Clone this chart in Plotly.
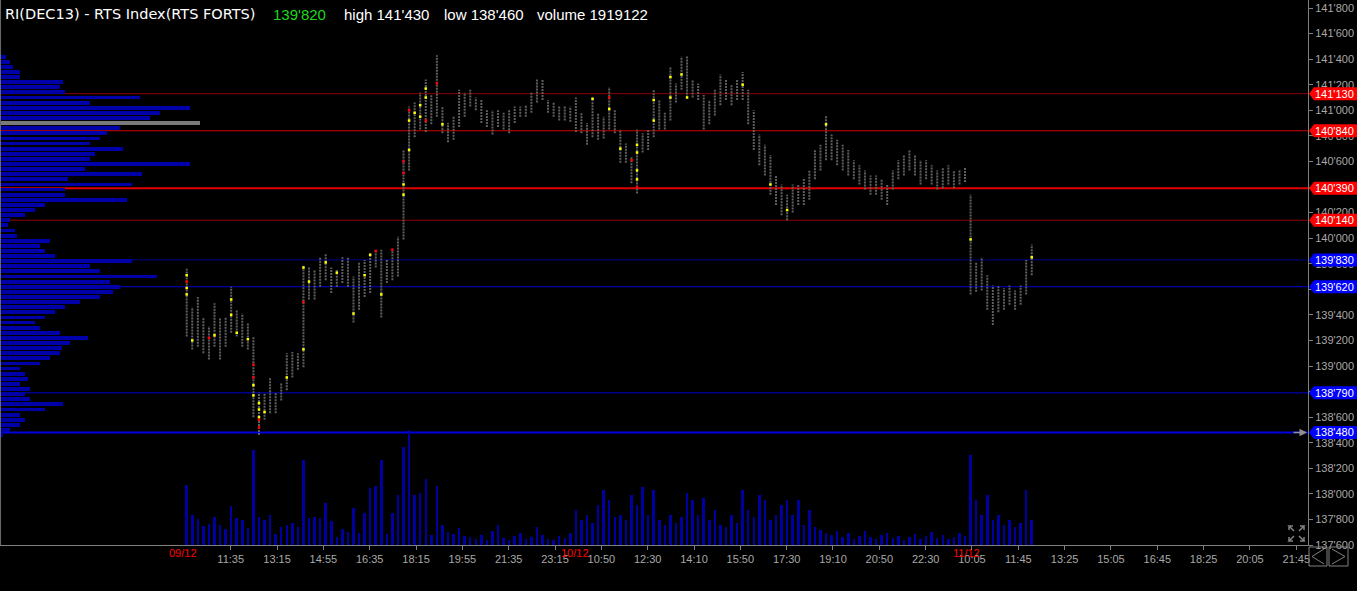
import plotly.graph_objects as go

# ---------------- data ----------------
BAR_MINUTES = 12  # each price column aggregates 12 trading minutes

HIGH = [139760, 139460, 139540, 139380, 139310, 139490, 139380, 139380, 139620, 139440,
        139410, 139340, 139230, 138790, 138790, 138910, 138790, 138870, 139100, 139110,
        139100, 139790, 139770, 139750, 139850, 139880, 139770, 139750, 139850, 139850,
        139700, 139810, 139830, 139880, 139910, 139910, 139830, 139910, 140010, 140690,
        141030, 141060, 141140, 141240, 141120, 141430, 141030, 140900, 140950, 141160,
        141140, 141160, 141100, 141080, 141000, 141000, 141000, 140980, 141000, 141030,
        141030, 141040, 141140, 141240, 141240, 141080, 141060, 141030, 141030, 141030,
        141100, 140980, 140900, 141100, 140980, 140950, 141180, 141000, 140850, 140740,
        140640, 140850, 140820, 140850, 141160, 141080, 140980, 141340, 141210, 141420,
        141420, 141240, 141210, 141120, 141080, 141160, 141280, 141240, 141200, 141240,
        141300, 141160, 141000, 140810, 140730, 140650, 140490, 140420, 140340, 140420,
        140420, 140470, 140530, 140690, 140730, 140960, 140810, 140770, 140730, 140690,
        140610, 140570, 140530, 140490, 140490, 140460, 140420, 140530, 140610, 140650,
        140690, 140650, 140610, 140610, 140570, 140530, 140550, 140570, 140530, 140530,
        140550, 140340, 139810, 139850, 139710, 139630, 139630, 139610, 139630, 139590,
        139630, 139830, 139950]

LOW = [139230, 139130, 139150, 139100, 139050, 139150, 139050, 139150, 139260, 139230,
       139150, 139130, 138600, 138460, 138580, 138630, 138630, 138730, 138810, 138910,
       138970, 138990, 139520, 139520, 139620, 139670, 139570, 139620, 139650, 139620,
       139340, 139440, 139540, 139570, 139770, 139380, 139650, 139670, 139700, 139990,
       140530, 140790, 140850, 140830, 140890, 140950, 140820, 140750, 140770, 140870,
       140950, 141030, 141000, 140900, 140870, 140810, 140870, 140850, 140820, 140900,
       140950, 140950, 140980, 141060, 141080, 140980, 140950, 140920, 140920, 140910,
       140830, 140820, 140730, 140790, 140770, 140780, 140850, 140820, 140590, 140590,
       140430, 140350, 140670, 140690, 140790, 140850, 140850, 140920, 141060, 141160,
       141100, 141100, 141080, 140850, 140890, 140960, 141040, 141080, 141040, 141080,
       141080, 140890, 140690, 140570, 140490, 140340, 140260, 140180, 140140, 140200,
       140260, 140260, 140300, 140460, 140530, 140610, 140610, 140570, 140530, 140490,
       140460, 140420, 140380, 140340, 140340, 140300, 140260, 140380, 140460, 140490,
       140530, 140490, 140420, 140460, 140420, 140380, 140390, 140420, 140390, 140420,
       140440, 139560, 139580, 139590, 139440, 139320, 139420, 139440, 139480, 139440,
       139480, 139560, 139710]

VOLUME = [30000, 15000, 13000, 9500, 10500, 14000, 10000, 8000, 19500, 13500,
          12500, 8500, 47500, 14000, 12500, 15000, 5500, 9000, 10000, 11000,
          9000, 42500, 13500, 14000, 13500, 21000, 12000, 4000, 8000, 6500,
          18500, 6000, 16000, 28500, 29500, 42500, 5500, 16000, 25000, 49000,
          57500, 25000, 26000, 33000, 5000, 29500, 10000, 6500, 5500, 8500,
          4500, 4000, 3000, 5000, 2500, 7000, 10000, 3500, 2500, 4500,
          6000, 3000, 4000, 9000, 5000, 3000, 2500, 4500, 3500, 6000,
          17500, 12500, 15000, 11000, 20000, 27500, 22500, 14000, 15000, 12500,
          25000, 20000, 29000, 15000, 27500, 12500, 10000, 15000, 11000, 14000,
          26000, 22500, 15000, 23500, 12500, 17500, 10000, 9000, 15000, 11000,
          27500, 17500, 14000, 25000, 22500, 12500, 15000, 20000, 22500, 15000,
          22500, 10000, 17500, 9000, 7500, 6000, 5000, 7000, 4000, 6000,
          3000, 4500, 7000, 4000, 3000, 5000, 6000, 3500, 4500, 2500,
          4000, 5500, 3000, 4500, 6500, 3500, 5000, 3000, 4000, 6000,
          4500, 45000, 22500, 15000, 25000, 12500, 15000, 10000, 12500, 9000,
          11000, 27500, 12500]

PROFILE_PRICES = list(range(138460, 141421, 40))
PROFILE_VOLUME = [1080, 3600, 7200, 9000, 7200, 16200, 22680, 10800, 9000, 10800,
                  7200, 10080, 9000, 7200, 14400, 18000, 21600, 22320, 25200, 31680,
                  21600, 14400, 12600, 16200, 19800, 23400, 28800, 36000, 40680, 43200,
                  39600, 56520, 36000, 32400, 47520, 19800, 16200, 14400, 18000, 6120,
                  5400, 2880, 3600, 9000, 12600, 16200, 45720, 23400, 23400, 47520,
                  24480, 51120, 30600, 68400, 32400, 34200, 44280, 32400, 36000, 38520,
                  43200, 72000, 54000, 57600, 68400, 32400, 50400, 23400, 21600, 22680,
                  7200, 7200, 4680, 3600, 2160]

# highlighted (high-volume) price cells inside the columns: bar index, price
YELLOW_BAR = [0, 0, 0, 1, 5, 8, 8, 9, 11, 12, 12, 13, 13, 13, 14, 18, 21, 21, 22, 25,
              27, 30, 32, 33, 35, 39, 39, 40, 40, 41, 42, 42, 43, 43, 46, 73, 76, 78,
              81, 81, 81, 81, 84, 84, 87, 87, 89, 90, 100, 105, 108, 115, 141, 152]
YELLOW_PRICE = [139710, 139560, 139610, 139200, 139240, 139520, 139400, 139260, 139210,
                138850, 138770, 138660, 138600, 138710, 138640, 138910, 139130, 139770,
                139660, 139810, 139730, 139410, 139710, 139870, 139560, 140420, 140340,
                140690, 140920, 140980, 141040, 140950, 141100, 141170, 140890, 141090,
                141010, 140700, 140670, 140530, 140460, 140730, 140920, 141080, 141260,
                141100, 141280, 141100, 141200, 140420, 140220, 140890, 139990, 139850]
RED_BAR = [0, 4, 12, 12, 13, 13, 21, 34, 37, 39, 39, 40, 43, 45, 76, 80, 81]
RED_PRICE = [139660, 139220, 139010, 138910, 138580, 138520, 139500, 139900, 139910,
             140510, 140600, 141000, 140920, 141210, 141100, 140610, 140400]

LEVELS = [141130, 140840, 140390, 140140, 139830, 139620, 138790, 138480]
LEVEL_LINE_COLORS = ["#8a0000", "#d00000", "#e00000", "#900000",
                     "#00008a", "#0000d0", "#0000d0", "#0000e0"]
LEVEL_LINE_WIDTHS = [1, 1, 2, 1, 1, 1, 1, 2]
LEVEL_TAG_COLORS = ["#ff0000"] * 4 + ["#0000ff"] * 4

TIME_LABELS = ["11:35", "13:15", "14:55", "16:35", "18:15", "19:55", "21:35", "23:15",
               "10:50", "12:30", "14:10", "15:50", "17:30", "19:10", "20:50", "22:30",
               "10:05", "11:45", "13:25", "15:05", "16:45", "18:25", "20:05", "21:45"]
TIME_TICKS = [95 + 100 * i for i in range(len(TIME_LABELS))]  # trading minutes
DATE_LABELS = ["09/12", "10/12", "11/12"]
DATE_POS = [-8, 838, 1684]

PRICE_TICKS = list(range(137600, 141801, 200))


def fmt(v):
    return f"{v // 1000}'{v % 1000:03d}"


# ---------------- layout constants ----------------
FIG_W, FIG_H = 1357, 591
PLOT_W, PLOT_H = 1308, 545
X_RANGE = [-403.0, 2420.3]
Y_RANGE = [137600, 141862.6]
VOL_RANGE = [0, 272500]
PROF_RANGE = [0, 470880]
GREY = "#808080"
TXT_GREY = "#a8a8a8"
FONT = "Liberation Sans, Arial, sans-serif"


def pp(x, y):
    """pixel (from top-left of plot area) -> paper coordinates"""
    return x / PLOT_W, (PLOT_H - y) / PLOT_H


times = [i * BAR_MINUTES for i in range(len(HIGH))]

seg_x, seg_y = [], []
for t, h, l in zip(times, HIGH, LOW):
    seg_x += [t, t, None]
    seg_y += [l, h, None]

prof_colors = ["#0000a8"] * len(PROFILE_VOLUME)
prof_colors[PROFILE_VOLUME.index(max(PROFILE_VOLUME))] = "#7a7a7a"

fig = go.Figure()

fig.add_trace(go.Scatter(x=seg_x, y=seg_y, mode="lines",
                         line=dict(color="#5f5f5f", width=2, dash="2px,1px"),
                         hoverinfo="skip"))
fig.add_trace(go.Scatter(x=[times[i] for i in YELLOW_BAR], y=YELLOW_PRICE, mode="markers",
                         marker=dict(symbol="square", size=2.5, color="#ffff00", line_width=0),
                         hoverinfo="skip"))
fig.add_trace(go.Scatter(x=[times[i] for i in RED_BAR], y=RED_PRICE, mode="markers",
                         marker=dict(symbol="square", size=2.5, color="#ff0000", line_width=0),
                         hoverinfo="skip"))
fig.add_trace(go.Bar(x=times, y=VOLUME, yaxis="y2", width=BAR_MINUTES * 0.45,
                     marker=dict(color="#0000a0", line_width=0), hoverinfo="skip"))
fig.add_trace(go.Bar(y=PROFILE_PRICES, x=PROFILE_VOLUME, orientation="h", xaxis="x2",
                     width=30, marker=dict(color=prof_colors, line_width=0), hoverinfo="skip"))

shapes = []
annotations = []

# horizontal levels + right-hand tags
for lv, lc, lw, tc in zip(LEVELS, LEVEL_LINE_COLORS, LEVEL_LINE_WIDTHS, LEVEL_TAG_COLORS):
    shapes.append(dict(type="line", xref="paper", x0=0, x1=1, yref="y", y0=lv, y1=lv,
                       line=dict(color=lc, width=lw), layer="below"))
    shapes.append(dict(type="path", xref="paper", xsizemode="pixel", xanchor=1,
                       yref="y", ysizemode="pixel", yanchor=lv,
                       path="M1,0 L6,6.5 L49,6.5 L49,-6.5 L6,-6.5 Z",
                       fillcolor=tc, line=dict(width=0), layer="above"))
    annotations.append(dict(xref="paper", x=1, yref="y", y=lv, text=fmt(lv),
                            xanchor="left", yanchor="middle", xshift=5, showarrow=False,
                            font=dict(family=FONT, size=11, color="#ffffff")))

# left border
shapes.append(dict(type="line", xref="paper", x0=0.0004, x1=0.0004, yref="paper", y0=0, y1=1,
                   line=dict(color="#6a6a6a", width=1)))

# navigation buttons bottom-right
for (x0, x1) in [(1309, 1327), (1329, 1348)]:
    a = pp(x0, 547)
    b = pp(x1, 566)
    shapes.append(dict(type="rect", xref="paper", yref="paper", x0=a[0], y0=a[1], x1=b[0], y1=b[1],
                       line=dict(color=GREY, width=1)))
for pts in [[(1324, 549), (1312, 556.5), (1324, 564)], [(1332, 549), (1345, 556.5), (1332, 564)]]:
    p = [pp(*q) for q in pts]
    shapes.append(dict(type="path", xref="paper", yref="paper",
                       path=f"M{p[0][0]},{p[0][1]} L{p[1][0]},{p[1][1]} L{p[2][0]},{p[2][1]}",
                       line=dict(color=GREY, width=1)))

# expand icon
for (cx, cy, ex, ey) in [(1294, 531, 1289, 526), (1299, 531, 1304, 526),
                         (1294, 536, 1289, 541), (1299, 536, 1304, 541)]:
    dx = 4 if ex < cx else -4
    dy = 4 if ey < cy else -4
    pts = [pp(cx, cy), pp(ex, ey), pp(ex + dx, ey), pp(ex, ey), pp(ex, ey + dy)]
    path = "M" + " L".join(f"{a},{b}" for a, b in pts)
    shapes.append(dict(type="path", xref="paper", yref="paper", path=path,
                       line=dict(color=GREY, width=1.5)))

# arrow marker on the 138'480 level
annotations.append(dict(xref="paper", x=1307 / PLOT_W, yref="y", y=LEVELS[-1], text="",
                        showarrow=True, ax=-15, ay=0, arrowhead=2, arrowsize=1,
                        arrowwidth=1.5, arrowcolor="#909090"))

# title line
tx, ty = pp(3, 14)
annotations.append(dict(xref="paper", yref="paper", x=tx, y=ty, xanchor="left", yanchor="middle",
                        text="RI(DEC13) - RTS Index(RTS FORTS)", showarrow=False,
                        font=dict(family="DejaVu Sans", size=14.5, color="#ffffff")))
for txt, xpix, col in [("139'820", 271, "#1ed81e"), ("high 141'430", 342, "#ffffff"),
                       ("low 138'460", 442, "#ffffff"), ("volume 1919122", 535, "#ffffff")]:
    annotations.append(dict(xref="paper", yref="paper", x=xpix / PLOT_W, y=ty,
                            xanchor="left", yanchor="middle", text=txt, showarrow=False,
                            font=dict(family=FONT, size=15, color=col)))

# date labels on the time axis
_, dy = pp(0, 553)
for lab, pos in zip(DATE_LABELS, DATE_POS):
    annotations.append(dict(xref="x", x=pos, yref="paper", y=dy, text=lab, showarrow=False,
                            xanchor="center", yanchor="middle",
                            font=dict(family=FONT, size=11, color="#ff0000")))

fig.update_layout(
    width=FIG_W, height=FIG_H,
    margin=dict(l=0, r=FIG_W - PLOT_W, t=0, b=FIG_H - PLOT_H, pad=0),
    paper_bgcolor="#000000", plot_bgcolor="#000000",
    showlegend=False, barmode="overlay", bargap=0,
    xaxis=dict(range=X_RANGE, tickvals=TIME_TICKS, ticktext=TIME_LABELS,
               showgrid=False, zeroline=False, showline=True, linecolor=GREY, linewidth=1,
               ticks="outside", ticklen=4, tickcolor=GREY, tickwidth=1,
               tickfont=dict(family=FONT, size=11, color=TXT_GREY), fixedrange=True),
    yaxis=dict(range=Y_RANGE, side="right", tickvals=PRICE_TICKS,
               ticktext=[fmt(v) for v in PRICE_TICKS],
               showgrid=False, zeroline=False, showline=True, linecolor=GREY, linewidth=1,
               ticks="outside", ticklen=4, tickcolor=GREY, tickwidth=1,
               tickfont=dict(family=FONT, size=11, color=TXT_GREY), fixedrange=True),
    yaxis2=dict(overlaying="y", range=VOL_RANGE, visible=False, fixedrange=True),
    xaxis2=dict(overlaying="x", range=PROF_RANGE, visible=False, fixedrange=True),
    shapes=shapes, annotations=annotations,
)

fig.write_html("out.html",
               config=dict(displayModeBar=False),
               post_script="document.body.style.margin='0px';"
                           "document.body.style.background='#000000';"
                           "document.body.style.overflow='hidden';")
